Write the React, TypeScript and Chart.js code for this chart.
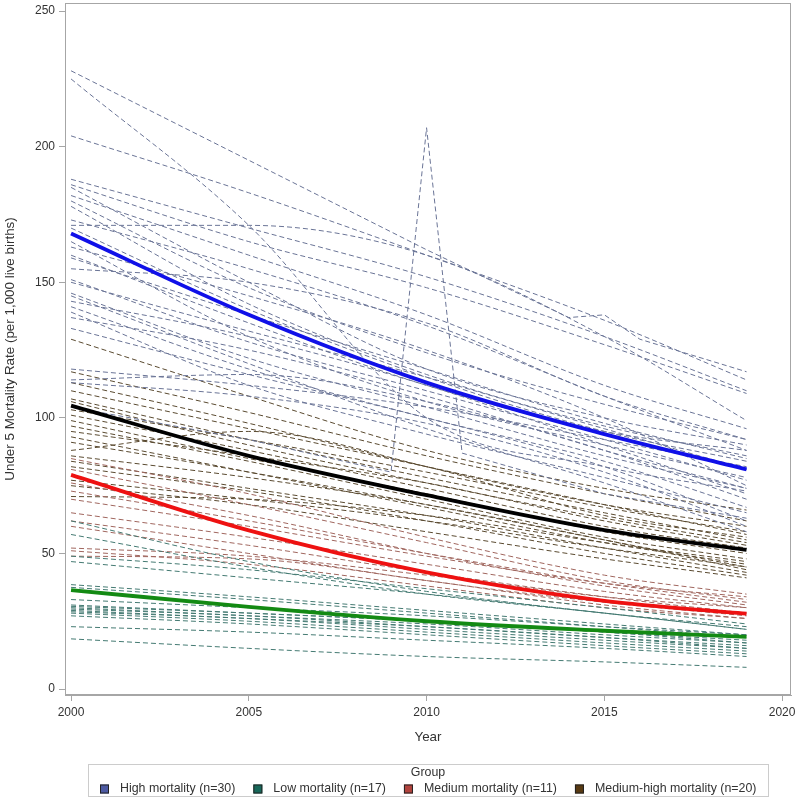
import React, { useEffect, useRef } from "react";
import { Chart, registerables } from "chart.js";

Chart.register(...registerables);

const FONT = "'Liberation Sans', Arial, sans-serif";

const YEARS = [2000, 2005, 2010, 2015, 2019];
const X_TICKS = [2000, 2005, 2010, 2015, 2020];
const Y_TICKS = [0, 50, 100, 150, 200, 250];

const GROUP_LABELS = [
  "High mortality (n=30)",
  "Low mortality (n=17)",
  "Medium mortality (n=11)",
  "Medium-high mortality (n=20)",
];
const GROUP_SWATCH = ["#4d5aa3", "#17685a", "#b2433d", "#583a12"];
const GROUP_LINE = ["#6a7496", "#447a72", "#a0665e", "#5a4a30"];
const FIT_COLORS = ["#1010e8", "#138a13", "#ee1111", "#000000"];

// High mortality countries (values at YEARS)
const HIGH_ROWS = [
  [225, 171, 100, 82, 73],
  [204, 183, 160, 136, 114],
  [188, 170, 152, 130, 110],
  [186, 165, 148, 127, 109],
  [171, 171, 160, 130, 99],
  [185, 150, 118, 100, 90],
  [182, 160, 138, 112, 96],
  [180, 148, 124, 105, 92],
  [178, 142, 116, 97, 86],
  [173, 155, 134, 108, 88],
  [170, 140, 115, 95, 84],
  [165, 130, 106, 90, 78],
  [163, 145, 125, 100, 75],
  [159, 138, 118, 98, 85],
  [155, 150, 135, 108, 92],
  [151, 128, 110, 92, 77],
  [146, 122, 104, 86, 74],
  [143, 130, 112, 90, 72],
  [141, 118, 100, 84, 67],
  [139, 112, 94, 78, 65],
  [137, 125, 108, 88, 74],
  [133, 116, 100, 82, 62],
  [118, 112, 104, 92, 82],
  [114, 116, 106, 88, 70],
  [113, 108, 98, 80, 60],
  [150, 132, 115, 96, 81],
  [145, 120, 96, 76, 58],
  [160, 135, 112, 95, 88],
];
// High mortality countries with irregular years
const HIGH_BUMP_YEARS = [2000, 2005, 2010, 2014, 2015, 2016, 2019];
const HIGH_BUMP = [228, 195, 162, 137, 138, 129, 117];
const HIGH_SPIKE_YEARS = [2000, 2005, 2009, 2010, 2011, 2015, 2019];
const HIGH_SPIKE = [104, 92, 80, 207, 87, 72, 63];

const MEDHIGH_ROWS = [
  [129, 108, 88, 74, 66],
  [117, 102, 86, 72, 62],
  [113, 98, 82, 68, 60],
  [110, 96, 82, 68, 57],
  [107, 92, 78, 65, 55],
  [106, 90, 76, 63, 54],
  [103, 92, 80, 67, 58],
  [101, 88, 74, 60, 52],
  [99, 85, 72, 58, 50],
  [97, 84, 70, 56, 48],
  [95, 86, 76, 62, 53],
  [93, 80, 67, 54, 46],
  [91, 80, 68, 55, 45],
  [88, 95, 82, 64, 56],
  [86, 78, 68, 55, 44],
  [84, 74, 64, 52, 43],
  [82, 73, 62, 50, 42],
  [77, 70, 62, 52, 45],
  [75, 68, 58, 48, 41],
  [71, 70, 64, 54, 47],
];

const MEDIUM_ROWS = [
  [85, 72, 56, 42, 35],
  [81, 68, 54, 40, 33],
  [76, 64, 50, 38, 31],
  [73, 62, 50, 39, 32],
  [70, 60, 49, 39, 34],
  [65, 56, 46, 36, 30],
  [62, 53, 43, 34, 28],
  [60, 50, 40, 32, 27],
  [52, 49, 42, 34, 30],
  [51, 46, 38, 30, 26],
  [49, 48, 40, 31, 26],
];

const LOW_ROWS = [
  [62, 47, 36, 28, 23],
  [57, 45, 35, 28, 22],
  [49, 44, 37, 30, 24],
  [47, 41, 35, 28, 22],
  [38.5, 34, 29, 24, 20],
  [37.5, 33, 28, 23, 19],
  [33, 30, 27, 23, 20],
  [31, 28, 25, 21, 18],
  [30.5, 28, 25, 21, 17],
  [30, 27, 24, 20, 17],
  [29.5, 27, 23, 19, 16],
  [29, 26, 23, 19, 15],
  [28.5, 26, 22, 18, 15],
  [28, 25, 21, 17, 14],
  [27, 24, 20, 16, 13],
  [23, 21, 18, 15, 12],
  [18.5, 15, 12, 10, 8],
];

// Fitted group curves
const FIT_HIGH = [168, 138, 113, 94, 81];
const FIT_LOW = [36.5, 30.3, 25, 21.5, 19.2];
const FIT_MEDIUM = [79, 58.5, 43, 32.5, 27.8];
const FIT_MEDHIGH = [104.5, 86, 71.5, 58.6, 51.3];

function pts(xs: number[], ys: number[]) {
  return xs.map((x, i) => ({ x, y: ys[i] }));
}

function dashed(xs: number[], ys: number[], color: string, monotone = true) {
  return {
    data: pts(xs, ys),
    borderColor: color,
    borderWidth: 1,
    borderDash: [5, 3],
    pointRadius: 0,
    fill: false,
    cubicInterpolationMode: monotone ? "monotone" : "default",
    tension: 0,
    order: 1,
  };
}

function fit(ys: number[], color: string) {
  return {
    data: pts(YEARS, ys),
    borderColor: color,
    borderWidth: 3.8,
    pointRadius: 0,
    fill: false,
    cubicInterpolationMode: "monotone",
    order: 0,
  };
}

const framePlugin = {
  id: "frame",
  afterDraw(chart: any) {
    const { ctx, chartArea } = chart;
    ctx.save();
    ctx.strokeStyle = "#a6a6a6";
    ctx.lineWidth = 1;
    ctx.strokeRect(
      Math.round(chartArea.left) + 0.5,
      Math.round(chartArea.top) + 0.5,
      Math.round(chartArea.right - chartArea.left) - 1,
      Math.round(chartArea.bottom - chartArea.top) - 1
    );
    ctx.restore();
  },
};

const legendPlugin = {
  id: "groupLegend",
  afterDraw(chart: any) {
    const { ctx, chartArea } = chart;
    const center = (chartArea.left + chartArea.right) / 2;
    ctx.save();
    ctx.strokeStyle = "#cccccc";
    ctx.lineWidth = 1;
    ctx.strokeRect(Math.round(center - 340) + 0.5, 764.5, 680, 32);
    ctx.font = `12.4px ${FONT}`;
    ctx.fillStyle = "#333333";
    ctx.textBaseline = "middle";
    ctx.textAlign = "center";
    ctx.fillText("Group", center, 773);
    const box = 9;
    const gapBox = 11;
    const gapItem = 18;
    const widths = GROUP_LABELS.map((t) => ctx.measureText(t).width);
    const total =
      widths.reduce((a: number, w: number) => a + box + gapBox + w, 0) + gapItem * (GROUP_LABELS.length - 1);
    let x = Math.round(center - total / 2);
    const y = 789;
    ctx.textAlign = "left";
    GROUP_LABELS.forEach((t, i) => {
      ctx.fillStyle = GROUP_SWATCH[i];
      ctx.fillRect(x, y - box / 2, box, box);
      ctx.strokeStyle = "#222222";
      ctx.strokeRect(x + 0.5, y - box / 2 + 0.5, box - 1, box - 1);
      ctx.fillStyle = "#333333";
      ctx.fillText(t, x + box + gapBox, y);
      x += box + gapBox + widths[i] + gapItem;
    });
    ctx.restore();
  },
};

export default function App() {
  const ref = useRef<HTMLCanvasElement>(null);
  useEffect(() => {
    document.body.style.margin = "0";
    const canvas = ref.current;
    if (!canvas) return;

    const datasets: any[] = [];
    HIGH_ROWS.forEach((r) => datasets.push(dashed(YEARS, r, GROUP_LINE[0])));
    datasets.push(dashed(HIGH_BUMP_YEARS, HIGH_BUMP, GROUP_LINE[0], false));
    datasets.push(dashed(HIGH_SPIKE_YEARS, HIGH_SPIKE, GROUP_LINE[0], false));
    LOW_ROWS.forEach((r) => datasets.push(dashed(YEARS, r, GROUP_LINE[1])));
    MEDIUM_ROWS.forEach((r) => datasets.push(dashed(YEARS, r, GROUP_LINE[2])));
    MEDHIGH_ROWS.forEach((r) => datasets.push(dashed(YEARS, r, GROUP_LINE[3])));
    datasets.push(fit(FIT_HIGH, FIT_COLORS[0]));
    datasets.push(fit(FIT_LOW, FIT_COLORS[1]));
    datasets.push(fit(FIT_MEDIUM, FIT_COLORS[2]));
    datasets.push(fit(FIT_MEDHIGH, FIT_COLORS[3]));

    const tickFont = { family: FONT, size: 12 };
    const titleFont = { family: FONT, size: 13.4 };

    const chart = new Chart(canvas, {
      type: "line",
      data: { datasets },
      options: {
        animation: false,
        responsive: false,
        devicePixelRatio: 1,
        layout: { padding: { left: 0, top: 3, right: 5, bottom: 0 } },
        plugins: {
          legend: { display: false },
          tooltip: { enabled: false },
        },
        scales: {
          x: {
            type: "linear",
            min: 1999.83,
            max: 2020.25,
            afterBuildTicks: (s: any) => {
              s.ticks = X_TICKS.map((v) => ({ value: v }));
            },
            afterFit: (s: any) => {
              s.height = 106;
              s.paddingLeft = 0;
              s.paddingRight = 0;
            },
            ticks: {
              font: tickFont,
              color: "#333333",
              padding: 4,
              maxRotation: 0,
              autoSkip: false,
              callback: (v: any) => String(v),
            },
            grid: {
              display: true,
              drawOnChartArea: false,
              drawTicks: true,
              tickLength: 6,
              color: "#a6a6a6",
            },
            border: { display: true, color: "#a6a6a6" },
            title: {
              display: true,
              text: "Year",
              font: titleFont,
              color: "#333333",
              padding: { top: 0, bottom: 56 },
            },
          },
          y: {
            type: "linear",
            min: -2.2,
            max: 253,
            afterBuildTicks: (s: any) => {
              s.ticks = Y_TICKS.map((v) => ({ value: v }));
            },
            afterFit: (s: any) => {
              s.width = 65;
              s.paddingTop = 0;
              s.paddingBottom = 0;
            },
            ticks: {
              font: tickFont,
              color: "#333333",
              padding: 4,
              autoSkip: false,
              callback: (v: any) => String(v),
            },
            grid: {
              display: true,
              drawOnChartArea: false,
              drawTicks: true,
              tickLength: 6,
              color: "#a6a6a6",
            },
            border: { display: true, color: "#a6a6a6" },
            title: {
              display: true,
              text: "Under 5 Mortality Rate (per 1,000 live births)",
              font: titleFont,
              color: "#333333",
              padding: { top: 2, bottom: 0 },
            },
          },
        },
      },
      plugins: [framePlugin, legendPlugin],
    } as any);

    return () => chart.destroy();
  }, []);

  return (
    <div style={{ width: 796, height: 801 }}>
      <canvas ref={ref} width={796} height={801} style={{ display: "block" }} />
    </div>
  );
}
